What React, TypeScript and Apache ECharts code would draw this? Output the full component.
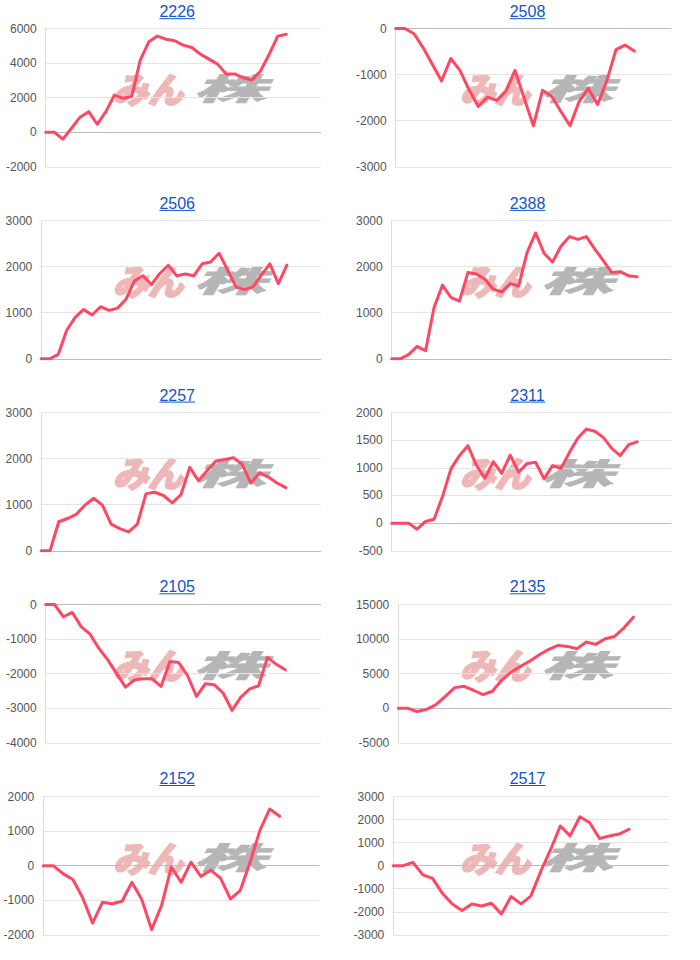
import React, { useEffect, useRef } from 'react';
import * as echarts from 'echarts';

// ---- data ----
const TITLES = ['2226', '2508', '2506', '2388', '2257', '2311', '2105', '2135', '2152', '2517'];

const V2226 = [0, 0, -400, 230, 870, 1190, 460, 1190, 2150, 1960, 2060, 4170, 5230, 5560, 5380, 5290, 5040, 4900, 4520, 4230, 3940, 3370, 3370, 3150, 3020, 3540, 4500, 5560, 5670];
const V2508 = [0, 0, -115, -420, -780, -1140, -650, -910, -1330, -1690, -1490, -1560, -1360, -910, -1510, -2110, -1340, -1470, -1800, -2110, -1580, -1300, -1650, -1140, -460, -360, -490];
const V2506 = [0, 0, 95, 620, 900, 1070, 950, 1130, 1050, 1100, 1290, 1690, 1800, 1610, 1850, 2030, 1800, 1840, 1800, 2060, 2100, 2290, 1930, 1560, 1500, 1560, 1820, 2060, 1630, 2030];
const V2388 = [0, 0, 90, 270, 175, 1110, 1600, 1330, 1250, 1870, 1840, 1730, 1510, 1450, 1630, 1580, 2310, 2730, 2290, 2100, 2440, 2650, 2590, 2650, 2380, 2130, 1870, 1890, 1800, 1780];
const V2257 = [0, 0, 630, 700, 790, 990, 1140, 990, 580, 480, 410, 580, 1240, 1270, 1200, 1040, 1220, 1810, 1520, 1740, 1950, 1980, 2020, 1880, 1470, 1690, 1600, 1470, 1370];
const V2311 = [0, 0, 0, -110, 30, 70, 480, 980, 1220, 1400, 1050, 810, 1110, 900, 1230, 920, 1080, 1100, 800, 1040, 990, 1280, 1540, 1700, 1660, 1550, 1350, 1220, 1420, 1470];
const V2105 = [0, 0, -355, -230, -640, -860, -1270, -1600, -2000, -2390, -2180, -2150, -2150, -2370, -1650, -1680, -2060, -2660, -2290, -2320, -2560, -3060, -2680, -2440, -2350, -1530, -1730, -1890];
const V2135 = [0, 0, -480, -190, 530, 1730, 2980, 3170, 2600, 1970, 2450, 4040, 5240, 6060, 6830, 7740, 8510, 9090, 8940, 8610, 9570, 9230, 10050, 10380, 11630, 13170];
const V2152 = [0, 0, -230, -400, -930, -1660, -1060, -1100, -1030, -480, -980, -1850, -1160, -40, -480, 100, -310, -130, -360, -960, -720, 100, 1020, 1640, 1430];
const V2517 = [0, 0, 145, -400, -550, -1200, -1660, -1950, -1660, -1750, -1630, -2100, -1340, -1660, -1320, -260, 680, 1720, 1290, 2120, 1860, 1180, 1290, 1370, 1580];

const SERIES = [V2226, V2508, V2506, V2388, V2257, V2311, V2105, V2135, V2152, V2517];
// number of x-axis slots (period length) per chart
const SLOTS = [33, 31, 34, 34, 33, 34, 32, 30, 29, 29];

const Y_MIN = [-2000, -3000, 0, 0, 0, -500, -4000, -5000, -2000, -3000];
const Y_MAX = [6000, 0, 3000, 3000, 3000, 2000, 0, 15000, 2000, 3000];
const Y_STEP = [2000, 1000, 1000, 1000, 1000, 500, 1000, 5000, 1000, 1000];

// ---- layout ----
const PLOT_LEFT = [45.7, 395.7, 41.3, 391.7, 41.3, 391.7, 45.7, 398.3, 43.3, 393.3];
const PLOT_RIGHT = [320.7, 671, 320.7, 671, 320.7, 671, 320.7, 671, 319, 668.3];
const ROW_TOP = 28.5;
const ROW_STEP = 192;
const PLOT_H = 138.3;
const TITLE_X = [177.2, 527.5];
const TITLE_Y0 = 11.7;
const TITLE_STEP = 191.7;

const LINE_COLOR = '#ff4763';
const FONT = 'Arial, "Liberation Sans", sans-serif';
const WM_RED = '#eeb8b8';
const WM_GREY = '#b6b6b6';

function buildOption() {
  const grid: any[] = [];
  const xAxis: any[] = [];
  const yAxis: any[] = [];
  const series: any[] = [];
  const graphic: any[] = [];

  SERIES.forEach((vals, i) => {
    const col = i % 2;
    const row = Math.floor(i / 2);
    const top = ROW_TOP + ROW_STEP * row;
    grid.push({
      left: PLOT_LEFT[i],
      top,
      width: PLOT_RIGHT[i] - PLOT_LEFT[i],
      height: PLOT_H,
      containLabel: false,
    });
    xAxis.push({
      type: 'category',
      gridIndex: i,
      boundaryGap: false,
      data: Array.from({ length: SLOTS[i] }, (_, k) => String(k + 1)),
      axisLine: { show: true, onZero: true, lineStyle: { color: '#bdbdbd', width: 1 } },
      axisTick: { show: false },
      axisLabel: { show: false },
      splitLine: { show: false },
      z: 3,
    });
    yAxis.push({
      type: 'value',
      gridIndex: i,
      min: Y_MIN[i],
      max: Y_MAX[i],
      interval: Y_STEP[i],
      axisLine: { show: true, lineStyle: { color: '#dcdcdc', width: 1 } },
      axisTick: { show: false },
      axisLabel: {
        color: '#555',
        fontSize: 12,
        fontFamily: FONT,
        margin: 9,
        formatter: (v: number) => String(v),
      },
      splitLine: { show: true, lineStyle: { color: '#e4e4e4', width: 1 } },
    });
    series.push({
      type: 'line',
      xAxisIndex: i,
      yAxisIndex: i,
      data: vals,
      symbol: 'none',
      silent: true,
      z: 5,
      lineStyle: { color: LINE_COLOR, width: 3, join: 'round', cap: 'round' },
    });

    // title (link style)
    const tx = TITLE_X[col];
    const ty = TITLE_Y0 + TITLE_STEP * row;
    const tw = TITLES[i].length * 0.556 * 16;
    graphic.push({
      type: 'text',
      x: tx,
      y: ty,
      z: 10,
      style: {
        text: TITLES[i],
        fill: '#1155cc',
        font: `16px ${FONT}`,
        textAlign: 'center',
        textVerticalAlign: 'middle',
      },
    });
    graphic.push({
      type: 'line',
      z: 10,
      shape: { x1: tx - tw / 2, y1: ty + 7, x2: tx + tw / 2, y2: ty + 7 },
      style: { stroke: '#1155cc', lineWidth: 1 },
    });

    // watermark
    const wx = col === 0 ? 113 : 460;
    const wy = 87 + 192.3 * row;
    graphic.push({
      type: 'text',
      x: wx,
      y: wy,
      z: 0,
      style: {
        text: 'みん',
        fill: WM_RED,
        stroke: WM_RED,
        lineWidth: 2.5,
        font: `italic bold 35px "Noto Sans CJK JP", sans-serif`,
        textAlign: 'left',
        textVerticalAlign: 'middle',
      },
    });
    graphic.push({
      type: 'text',
      x: wx + 80,
      y: wy,
      z: 0,
      scaleX: 2.4,
      style: {
        text: '株',
        fill: WM_GREY,
        stroke: WM_GREY,
        lineWidth: 1,
        font: `italic bold 30px "Noto Sans CJK JP", sans-serif`,
        textAlign: 'left',
        textVerticalAlign: 'middle',
      },
    });
  });

  return {
    animation: false,
    backgroundColor: '#ffffff',
    grid,
    xAxis,
    yAxis,
    series,
    graphic: { elements: graphic },
  };
}

export default function App() {
  const ref = useRef<HTMLDivElement>(null);
  useEffect(() => {
    document.body.style.margin = '0';
    const chart = echarts.init(ref.current as HTMLDivElement, null, { renderer: 'svg' });
    chart.setOption(buildOption() as any);
    return () => chart.dispose();
  }, []);
  return <div ref={ref} style={{ width: 700, height: 960 }} />;
}
